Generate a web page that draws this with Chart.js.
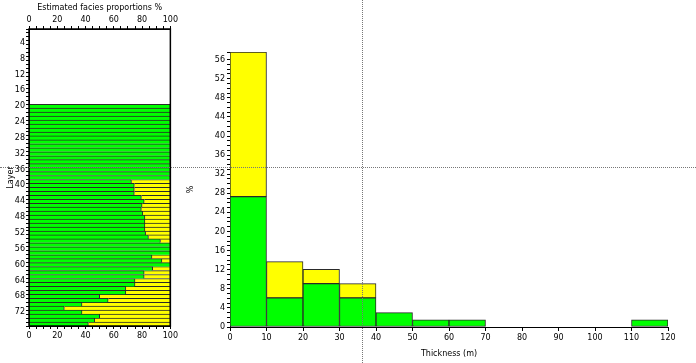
<!DOCTYPE html>
<html>
<head>
<meta charset="utf-8">
<script src="https://cdn.jsdelivr.net/npm/chart.js@4.4.1/dist/chart.umd.min.js"></script>
<style>
  html, body { margin: 0; padding: 0; background: #fff; }
  #wrap { position: relative; width: 696px; height: 363px; overflow: hidden; }
  #leftBox { position: absolute; left: 0; top: 0; width: 180px; height: 363px; }
  #rightBox { position: absolute; left: 180px; top: 0; width: 516px; height: 363px; }
  .hair { position: absolute; z-index: 5; pointer-events: none; }
  #vline { left: 362px; top: 0; width: 0; height: 363px; border-left: 1px dotted #777; }
  #hline { left: 0; top: 167px; width: 696px; height: 0; border-top: 1px dotted #777; }
</style>
</head>
<body>
<div id="wrap">
  <div id="leftBox"><canvas id="faciesChart"></canvas></div>
  <div id="rightBox"><canvas id="thickChart"></canvas></div>
  <div id="vline" class="hair"></div>
  <div id="hline" class="hair"></div>
</div>
<script>
// layers 1..75, top to bottom; layers 1-19 carry no estimate
const layerLabels = [
    1, 2, 3, 4, 5, 6, 7, 8, 9, 10, 11, 12, 13, 14, 15, 16, 17, 18, 19, 20,
    21, 22, 23, 24, 25, 26, 27, 28, 29, 30, 31, 32, 33, 34, 35, 36, 37, 38, 39, 40,
    41, 42, 43, 44, 45, 46, 47, 48, 49, 50, 51, 52, 53, 54, 55, 56, 57, 58, 59, 60,
    61, 62, 63, 64, 65, 66, 67, 68, 69, 70, 71, 72, 73, 74, 75
];
const greenShare = [
    null, null, null, null, null, null, null, null, null, null,
    null, null, null, null, null, null, null, null, null, 100,
    100, 100, 100, 100, 100, 100, 100, 100, 100, 100,
    100, 100, 100, 100, 100, 100, 100, 100, 72.5, 74.5,
    74.5, 74.5, 79.5, 81.5, 80, 79.5, 80.5, 82, 82, 82,
    82, 82.5, 84.5, 93, 100, 100, 100, 87, 94, 100,
    87.5, 81.5, 81.5, 75, 75, 68.5, 68.5, 50, 56, 37.5,
    25, 37.5, 50, 46.5, 42
];
const yellowShare = [
    null, null, null, null, null, null, null, null, null, null,
    null, null, null, null, null, null, null, null, null, 0,
    0, 0, 0, 0, 0, 0, 0, 0, 0, 0,
    0, 0, 0, 0, 0, 0, 0, 0, 27.5, 25.5,
    25.5, 25.5, 20.5, 18.5, 20, 20.5, 19.5, 18, 18, 18,
    18, 17.5, 15.5, 7, 0, 0, 0, 13, 6, 0,
    12.5, 18.5, 18.5, 25, 25, 31.5, 31.5, 50, 44, 62.5,
    75, 62.5, 50, 53.5, 58
];

// thickness histogram, bin centres (m) and % per bin
const binCentres = [5, 15, 25, 35, 45, 55, 65, 75, 85, 95, 105, 115];
const greenPct  = [27.3, 6.1, 9.1, 6.1, 3.0, 1.5, 1.5, 0, 0, 0, 0, 1.5];
const yellowPct = [30.3, 7.6, 3.0, 3.0, 0, 0, 0, 0, 0, 0, 0, 0];

const GREEN = '#00ff00';
const YELLOW = '#ffff00';
const EDGE = '#2a2a2a';
const tickFont = { family: 'DejaVu Sans', size: 8 };

const frameBox = {
    id: 'frameBox',
    afterDatasetsDraw(chart) {
        const a = chart.chartArea, ctx = chart.ctx;
        ctx.save();
        ctx.strokeStyle = '#000';
        ctx.lineWidth = 1.5;
        ctx.strokeRect(a.left, a.top, a.right - a.left, a.bottom - a.top);
        ctx.restore();
    }
};

function drawFacies() {
    const ctx = document.getElementById('faciesChart').getContext('2d');
    new Chart(ctx, {
        type: 'bar',
        data: {
            labels: layerLabels,
            datasets: [
                { label: 'green', data: greenShare, backgroundColor: GREEN },
                { label: 'yellow', data: yellowShare, backgroundColor: YELLOW }
            ]
        },
        options: {
            indexAxis: 'y',
            responsive: false,
            animation: false,
            layout: { padding: { right: 8 } },
            datasets: {
                bar: {
                    barPercentage: 1,
                    categoryPercentage: 1,
                    borderColor: EDGE,
                    borderWidth: { top: 1, right: 1, bottom: 0, left: 0 },
                    borderSkipped: false
                }
            },
            plugins: { legend: { display: false }, tooltip: { enabled: false } },
            scales: {
                x: {
                    type: 'linear', position: 'bottom', stacked: true,
                    min: 0, max: 100,
                    afterFit(s) { s.height = 37; },
                    grid: { drawOnChartArea: false, tickLength: 3, color: '#000' },
                    border: { color: '#000' },
                    ticks: {
                        stepSize: 5, autoSkip: false, maxRotation: 0,
                        color: '#000', font: tickFont, padding: 2,
                        callback: v => (v % 20 === 0 ? v : '')
                    }
                },
                x2: {
                    type: 'linear', position: 'top',
                    min: 0, max: 100,
                    afterFit(s) { s.height = 29; },
                    grid: { drawOnChartArea: false, tickLength: 3, color: '#000' },
                    border: { color: '#000' },
                    title: {
                        display: true, text: 'Estimated facies proportions %',
                        color: '#000', font: tickFont, padding: { top: 3, bottom: 0 }
                    },
                    ticks: {
                        stepSize: 5, autoSkip: false, maxRotation: 0,
                        color: '#000', font: tickFont, padding: 1,
                        callback: v => (v % 20 === 0 ? v : '')
                    }
                },
                y: {
                    stacked: true,
                    afterFit(s) { s.width = 29; },
                    grid: { drawOnChartArea: false, tickLength: 3, color: '#000' },
                    border: { color: '#000' },
                    title: {
                        display: true, text: 'Layer', color: '#000',
                        font: tickFont, padding: { top: 6, bottom: 0 }
                    },
                    ticks: {
                        autoSkip: false, color: '#000', font: tickFont, padding: 1,
                        callback(v) {
                            const n = layerLabels[v];
                            return n % 4 === 0 ? n : '';
                        }
                    }
                }
            }
        },
        plugins: [frameBox]
    });
}

function drawThickness() {
    const ctx = document.getElementById('thickChart').getContext('2d');
    const toPoints = vals => binCentres
        .map((c, i) => ({ x: c, y: vals[i] }))
        .filter(p => p.y > 0);

    new Chart(ctx, {
        type: 'bar',
        data: {
            datasets: [
                { label: 'green', data: toPoints(greenPct), backgroundColor: GREEN },
                { label: 'yellow', data: toPoints(yellowPct), backgroundColor: YELLOW }
            ]
        },
        options: {
            responsive: false,
            animation: false,
            layout: { padding: { top: 52, right: 28 } },
            datasets: {
                bar: {
                    barPercentage: 1,
                    categoryPercentage: 1,
                    borderColor: EDGE,
                    borderWidth: 1,
                    borderSkipped: false
                }
            },
            plugins: { legend: { display: false }, tooltip: { enabled: false } },
            scales: {
                x: {
                    type: 'linear', stacked: true, offset: false,
                    min: 0, max: 120,
                    afterFit(s) { s.height = 36; },
                    grid: { drawOnChartArea: false, offset: false, tickLength: 4, color: '#000' },
                    border: { color: '#000' },
                    title: {
                        display: true, text: 'Thickness (m)', color: '#000',
                        font: tickFont, padding: { top: 0, bottom: 4 }
                    },
                    ticks: { stepSize: 10, maxRotation: 0, color: '#000', font: tickFont, padding: 2 }
                },
                y: {
                    stacked: true,
                    min: 0, max: 57.6,
                    afterFit(s) { s.width = 50; },
                    grid: { drawOnChartArea: false, tickLength: 3, color: '#000' },
                    border: { color: '#000' },
                    title: {
                        display: true, text: '%', color: '#000',
                        font: tickFont, padding: { top: 6, bottom: 0 }
                    },
                    ticks: {
                        stepSize: 1, autoSkip: false, color: '#000', font: tickFont, padding: 2,
                        callback: v => (Number.isInteger(v) && v % 4 === 0 ? v : '')
                    }
                }
            }
        }
    });
}

function sizeCanvas(id, w, h) {
    const c = document.getElementById(id);
    c.width = w; c.height = h;
    c.style.width = w + 'px'; c.style.height = h + 'px';
}

window.addEventListener('load', () => {
    sizeCanvas('faciesChart', 180, 363);
    sizeCanvas('thickChart', 516, 363);
    drawFacies();
    drawThickness();
});
</script>
</body>
</html>
